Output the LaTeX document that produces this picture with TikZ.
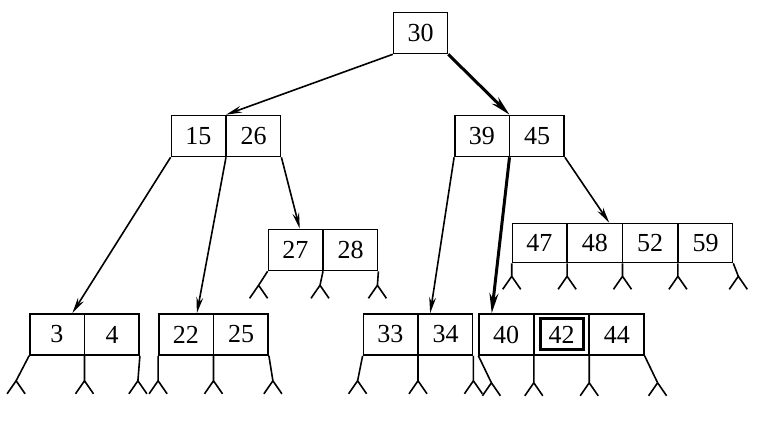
\documentclass[tikz,border=0pt]{standalone}
\usepackage{fontspec}
\setmainfont{Liberation Serif}
\usetikzlibrary{arrows.meta,calc,shapes.multipart}

\tikzset{
  btnode/.style={draw=black,line width=0.8pt,rectangle split,rectangle split horizontal,
      rectangle split parts=#1,text width=26.9pt,inner xsep=0pt,inner ysep=0pt,
      align=center,minimum height=20.5pt,font=\fontsize{13}{15}\selectfont},
  ptr/.style={->,line width=0.8pt},
  hotptr/.style={-{Stealth[length=10pt,width=4.5pt]},line width=1.5pt},
}
% empty subtree: a stem and two little legs
\newcommand{\nilptr}[3]{\draw[line width=0.8pt] (#1) -- ++(#2,#3) coordinate (nilapex)
    -- ++(-9,13) (nilapex) -- ++(9,13);}

\begin{document}
\begin{tikzpicture}[x=0.5pt,y=-0.5pt,>={Stealth[length=8pt,width=3.4pt]}]
\useasboundingbox (0,0) rectangle (775,421);
\node[btnode=1] (r30) at (420.5,33) {30};
\node[btnode=2] (n15) at (226,136) {15 \nodepart{two} 26};
\node[btnode=2] (n39) at (509.5,136) {39 \nodepart{two} 45};
\node[btnode=2] (n27) at (323,250) {27 \nodepart{two} 28};
\node[btnode=4,minimum height=19.5pt] (n47) at (622.5,243)
      {47 \nodepart{two} 48 \nodepart{three} 52 \nodepart{four} 59};
\node[btnode=2] (n3) at (84.5,334.5) {3 \nodepart{two} 4};
\node[btnode=2] (n22) at (213.5,334.5) {22 \nodepart{two} 25};
\node[btnode=2] (n33) at (418,334.5) {33 \nodepart{two} 34};
\node[btnode=3] (n40) at (561.5,334.5) {40 \nodepart{two} 42 \nodepart{three} 44};
% the key that was found
\node[draw,line width=1.5pt,minimum width=21.5pt,minimum height=15.5pt,inner sep=0pt]
      (hit) at (n40.center) {};

\draw[ptr] (r30.south west) -- (n15.one split north);
\draw[hotptr] (r30.south east) -- (n39.one split north);
\draw[ptr] (n15.south west) -- ($(n3.north west)!.39!(n3.north east)$);
\draw[ptr] (n15.one split south) -- ($(n22.north west)!.35!(n22.north east)$);
\draw[ptr] (n15.south east) -- ($(n27.north west)!.29!(n27.north east)$);
\draw[ptr] (n39.south west) -- ($(n33.north west)!.61!(n33.north east)$);
\draw[hotptr] (n39.one split south) -- ($(n40.north west)!.08!(n40.north east)$);
\draw[ptr] (n39.south east) -- ($(n47.north west)!.44!(n47.north east)$);

% leaves
\nilptr{n27.south west}{-9}{14} \nilptr{n27.one split south}{-3}{14} \nilptr{n27.south east}{-1}{14}
\nilptr{n47.south west}{0}{13} \nilptr{n47.one split south}{0}{13}
\nilptr{n47.two split south}{0}{13} \nilptr{n47.three split south}{0}{13}
\nilptr{n47.south east}{5}{13}
\nilptr{n3.south west}{-13}{25} \nilptr{n3.one split south}{0}{25} \nilptr{n3.south east}{-2}{25}
\nilptr{n22.south west}{0}{25} \nilptr{n22.one split south}{0}{25} \nilptr{n22.south east}{4}{25}
\nilptr{n33.south west}{-5}{25} \nilptr{n33.one split south}{0}{25} \nilptr{n33.south east}{0}{25}
\nilptr{n40.south west}{13}{27} \nilptr{n40.one split south}{0}{27}
\nilptr{n40.two split south}{0}{27} \nilptr{n40.south east}{13}{27}
\end{tikzpicture}
\end{document}
